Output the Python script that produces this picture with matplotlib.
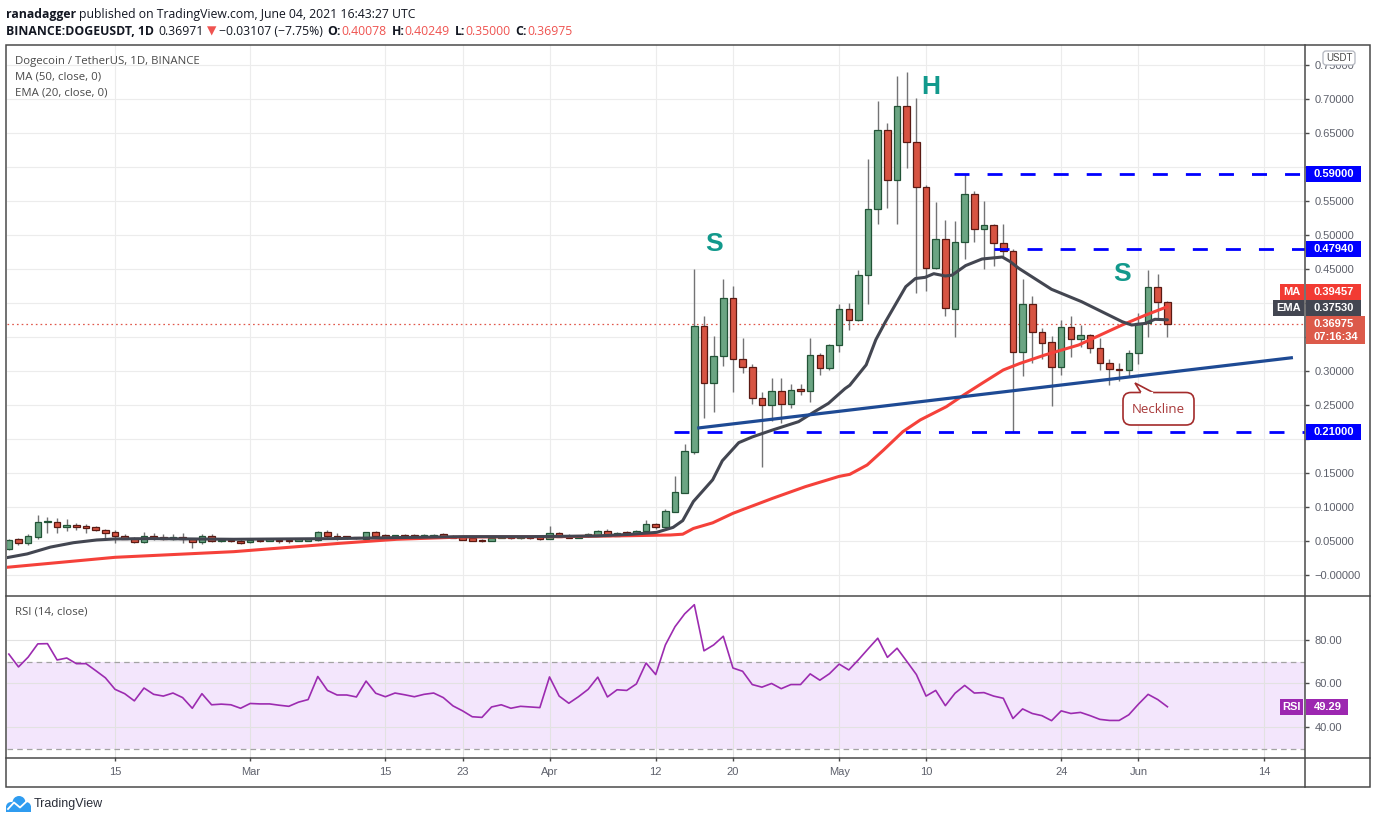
import matplotlib
matplotlib.use("Agg")
import matplotlib.pyplot as plt
from matplotlib.patches import Rectangle, FancyBboxPatch, Polygon, Circle
import numpy as np

W, H = 1376, 823
plt.rcParams['font.family'] = ['Liberation Sans', 'DejaVu Sans']
plt.rcParams['lines.scale_dashes'] = False

# one daily candle per day, counted from 15 Feb 2021 (4 Feb .. 4 Jun)
days = list(range(-11, 110))
opens = [0.0378, 0.0525, 0.0466, 0.0564, 0.0775, 0.0785, 0.0701, 0.0730, 0.0701, 0.0701, 0.0662,
         0.0625, 0.0569, 0.0539, 0.0491, 0.0578, 0.0554, 0.0534, 0.0554, 0.0534, 0.0480,
         0.0574, 0.0495, 0.0520, 0.0500, 0.0480, 0.0515, 0.0505, 0.0520, 0.0510, 0.0500,
         0.0505, 0.0520, 0.0627, 0.0580, 0.0554, 0.0549, 0.0534, 0.0632, 0.0588, 0.0560,
         0.0588, 0.0588, 0.0569, 0.0574, 0.0600, 0.0574, 0.0559, 0.0544, 0.0515, 0.0505,
         0.0549, 0.0554, 0.0540, 0.0554, 0.0549, 0.0534, 0.0617, 0.0580, 0.0550, 0.0569,
         0.0593, 0.0642, 0.0580, 0.0620, 0.0608, 0.0642, 0.0750, 0.0700, 0.0931, 0.1210,
         0.1813, 0.3657, 0.2819, 0.3225, 0.4080, 0.3176, 0.3054, 0.2598, 0.2495, 0.2700,
         0.2510, 0.2715, 0.2710, 0.3230, 0.3039, 0.3377, 0.3907, 0.3745, 0.4407, 0.5378,
         0.6540, 0.5804, 0.6892, 0.6363, 0.5700, 0.4510, 0.4940, 0.3907, 0.4890, 0.5600,
         0.5084, 0.5142, 0.4877, 0.4760, 0.3284, 0.3985, 0.3580, 0.3420, 0.3054, 0.3650,
         0.3466, 0.3525, 0.3333, 0.3113, 0.3025, 0.3010, 0.3260, 0.3700, 0.4230, 0.40078]
highs = [0.0525, 0.0549, 0.0603, 0.0882, 0.0848, 0.0833, 0.0819, 0.0760, 0.0745, 0.0721, 0.0672,
         0.0662, 0.0603, 0.0564, 0.0637, 0.0613, 0.0603, 0.0603, 0.0623, 0.0549, 0.0598,
         0.0598, 0.0539, 0.0534, 0.0525, 0.0534, 0.0534, 0.0530, 0.0530, 0.0525, 0.0535,
         0.0540, 0.0640, 0.0662, 0.0623, 0.0570, 0.0565, 0.0637, 0.0652, 0.0600, 0.0595,
         0.0600, 0.0600, 0.0600, 0.0605, 0.0615, 0.0590, 0.0570, 0.0555, 0.0525, 0.0560,
         0.0560, 0.0565, 0.0565, 0.0565, 0.0560, 0.0720, 0.0637, 0.0603, 0.0590, 0.0615,
         0.0662, 0.0672, 0.0625, 0.0647, 0.0655, 0.0810, 0.0770, 0.0970, 0.1456, 0.1930,
         0.4500, 0.3810, 0.3510, 0.4350, 0.4250, 0.3480, 0.3100, 0.2690, 0.2890, 0.2890,
         0.2810, 0.2810, 0.3490, 0.3260, 0.3400, 0.3985, 0.4000, 0.4485, 0.6118, 0.6970,
         0.6640, 0.7338, 0.7400, 0.7010, 0.5740, 0.5490, 0.5220, 0.5210, 0.5900, 0.5650,
         0.5500, 0.5160, 0.5160, 0.4800, 0.4350, 0.4110, 0.3630, 0.3510, 0.3750, 0.3810,
         0.3680, 0.3550, 0.3490, 0.3170, 0.3120, 0.3310, 0.3850, 0.4480, 0.4426, 0.40249]
lows = [0.0365, 0.0441, 0.0441, 0.0525, 0.0623, 0.0623, 0.0652, 0.0662, 0.0613, 0.0642, 0.0549,
        0.0475, 0.0525, 0.0475, 0.0475, 0.0515, 0.0515, 0.0515, 0.0466, 0.0402, 0.0456,
        0.0480, 0.0480, 0.0485, 0.0451, 0.0475, 0.0480, 0.0495, 0.0475, 0.0470, 0.0495,
        0.0500, 0.0505, 0.0539, 0.0515, 0.0535, 0.0530, 0.0530, 0.0560, 0.0550, 0.0550,
        0.0555, 0.0555, 0.0560, 0.0565, 0.0555, 0.0540, 0.0510, 0.0495, 0.0485, 0.0495,
        0.0540, 0.0530, 0.0530, 0.0535, 0.0510, 0.0530, 0.0555, 0.0540, 0.0545, 0.0560,
        0.0585, 0.0570, 0.0570, 0.0600, 0.0600, 0.0630, 0.0680, 0.0690, 0.0920, 0.1200,
        0.1780, 0.2304, 0.2390, 0.3080, 0.2696, 0.2970, 0.2520, 0.1593, 0.2270, 0.2240,
        0.2460, 0.2640, 0.2550, 0.2940, 0.3020, 0.3280, 0.3600, 0.3730, 0.3980, 0.5167,
        0.5390, 0.5167, 0.5990, 0.4150, 0.4180, 0.4500, 0.3810, 0.3500, 0.4640, 0.4900,
        0.4495, 0.4550, 0.4690, 0.2100, 0.2930, 0.3120, 0.3170, 0.2480, 0.2940, 0.3210,
        0.3360, 0.3270, 0.3010, 0.2800, 0.2860, 0.2930, 0.3110, 0.3500, 0.3750, 0.3500]
closes = [0.0515, 0.0466, 0.0574, 0.0775, 0.0790, 0.0701, 0.0730, 0.0701, 0.0697, 0.0657, 0.0623,
          0.0569, 0.0535, 0.0491, 0.0578, 0.0549, 0.0534, 0.0554, 0.0530, 0.0480, 0.0569,
          0.0495, 0.0520, 0.0500, 0.0475, 0.0515, 0.0500, 0.0520, 0.0495, 0.0500, 0.0525,
          0.0530, 0.0627, 0.0580, 0.0549, 0.0549, 0.0545, 0.0627, 0.0580, 0.0560, 0.0583,
          0.0564, 0.0560, 0.0588, 0.0593, 0.0564, 0.0550, 0.0520, 0.0505, 0.0500, 0.0550,
          0.0550, 0.0540, 0.0554, 0.0540, 0.0535, 0.0617, 0.0564, 0.0550, 0.0580, 0.0603,
          0.0647, 0.0580, 0.0617, 0.0613, 0.0647, 0.0745, 0.0700, 0.0937, 0.1216, 0.1820,
          0.3657, 0.2819, 0.3216, 0.4080, 0.3176, 0.3054, 0.2598, 0.2495, 0.2700, 0.2510,
          0.2715, 0.2710, 0.3230, 0.3039, 0.3377, 0.3907, 0.3745, 0.4407, 0.5378, 0.6540,
          0.5804, 0.6892, 0.6363, 0.5700, 0.4510, 0.4940, 0.3922, 0.4890, 0.5600, 0.5084,
          0.5142, 0.4877, 0.4760, 0.3284, 0.3985, 0.3578, 0.3417, 0.3064, 0.3652, 0.3466,
          0.3525, 0.3333, 0.3113, 0.3025, 0.3010, 0.3260, 0.3700, 0.4230, 0.4010, 0.36975]

# EMA 20 and MA 50
ema_days = [-11.2, -9.1, -6.7, -4.3, -1.9, 0, 3.6, 12.3, 22.6, 29.2, 36.1, 43, 49.9, 53.4, 56.1,
            57.8, 58.8, 59.9, 61.9, 62.9, 64.6, 66, 68.1, 70.8, 72.2, 73.9, 75.6, 76.1, 77.8, 78.8,
            79.8, 81.9, 82.9, 83.9, 84.8, 86, 86.7, 88.1, 89.8, 91.9, 92.7, 93.6, 97, 100.1,
            104.3, 105.3, 106.7, 107.7, 109]
ema_vals = [0.0255, 0.031, 0.041, 0.0475, 0.0515, 0.053, 0.0535, 0.0525, 0.0535, 0.055, 0.0564,
            0.0564, 0.0574, 0.0598, 0.0627, 0.070, 0.080, 0.108, 0.140, 0.168, 0.1946, 0.203,
            0.2132, 0.2255, 0.238, 0.2525, 0.274, 0.279, 0.309, 0.346, 0.3725, 0.424, 0.436,
            0.4377, 0.4431, 0.4397, 0.441, 0.455, 0.4647, 0.4676, 0.461, 0.451, 0.4201, 0.4020,
            0.3726, 0.3676, 0.370, 0.376, 0.3753]
ma_days = [-11.2, 0, 12.3, 23.3, 29.2, 36.1, 46.4, 53.4, 57.5, 58.8, 59.9, 61.9, 64, 68.1, 71.5,
           75, 76.1, 77.9, 79.6, 81.6, 83.4, 86.1, 87.9, 89.9, 92, 93.7, 96.3, 99.8, 104.3,
           106.7, 109]
ma_vals = [0.0113, 0.026, 0.0343, 0.0466, 0.0525, 0.0559, 0.0564, 0.0578, 0.0588, 0.060, 0.0684,
           0.0767, 0.0907, 0.1127, 0.1299, 0.1450, 0.148, 0.1618, 0.1838, 0.2108, 0.228, 0.2475,
           0.2647, 0.2828, 0.3015, 0.311, 0.3235, 0.3382, 0.3676, 0.382, 0.39457]

rsi_vals = [73.5, 67.6, 72.1, 78.2, 78.3, 70.8, 71.7, 69.1, 69.1, 65.9, 62.6,
            57.3, 55.3, 52.0, 57.9, 55.0, 54.2, 55.6, 53.5, 48.6, 55.3,
            50.2, 50.5, 50.2, 48.6, 50.8, 50.6, 50.6, 50.0, 49.5, 51.4,
            52.6, 63.2, 56.8, 54.7, 54.7, 53.8, 61.1, 55.5, 53.9, 55.6,
            54.8, 53.9, 55.0, 55.6, 53.5, 49.7, 47.4, 44.7, 44.4, 49.2,
            50.2, 48.6, 49.5, 49.2, 48.9, 63.0, 54.2, 50.9, 53.9, 57.3,
            62.9, 53.8, 57.1, 56.8, 59.8, 69.4, 64.1, 77.7, 86.1, 92.0,
            96.2, 75.0, 77.7, 81.7, 67.1, 65.6, 59.5, 58.3, 60.0, 57.6,
            59.5, 59.5, 64.4, 61.5, 64.5, 68.9, 66.2, 70.9, 75.9, 80.8,
            72.0, 76.2, 70.2, 64.1, 54.2, 56.8, 49.8, 55.5, 59.1, 55.6,
            55.8, 54.2, 53.2, 43.9, 48.3, 46.2, 45.2, 42.9, 47.4, 46.2,
            46.7, 45.2, 43.5, 43.0, 43.0, 45.6, 50.5, 55.0, 52.6, 49.29]

tick_days = [0, 14, 28, 36, 45, 56, 64, 75, 84, 98, 106, 119]
tick_labels = ['15', 'Mar', '15', '23', 'Apr', '12', '20', 'May', '10', '24', 'Jun', '14']
price_ticks = [0.0, 0.05, 0.10, 0.15, 0.20, 0.25, 0.30, 0.35, 0.40, 0.45, 0.50, 0.55, 0.60,
               0.65, 0.70, 0.75]
# labels covered by the price tags in the original are left blank
price_tick_labels = ['\u22120.00000', '0.05000', '0.10000', '0.15000', '', '0.25000',
                     '0.30000', '', '', '0.45000', '0.50000', '0.55000',
                     '', '0.65000', '0.70000', '0.75000']
rsi_ticks = [40, 60, 80]
rsi_tick_labels = ['40.00', '60.00', '80.00']

levels = [0.21, 0.4794, 0.59]
level_start = [57.9, 91.0, 86.9]
neck_days = [60.3, 122.0]
neck_prices = [0.216, 0.3197]
marks = [('S', 62.0, 0.487), ('H', 84.5, 0.717), ('S', 104.3, 0.442)]

UP, UP_EDGE = '#6ba583', '#225437'
DN, DN_EDGE = '#d75442', '#5b1a13'
FRAME = '#4a4a4a'
TXT = '#5d606b'

fig = plt.figure(figsize=(W / 100, H / 100), dpi=100)
fig.patch.set_facecolor('white')
ax = fig.add_axes([7 / W, 1 - 596 / H, 1298 / W, 551 / H])
rsi = fig.add_axes([7 / W, 1 - 757 / H, 1298 / W, 161 / H])
xlim = (-11.19, 123.25)

# ---- price pane ----
d = np.array(days)
o, hi, lo, c = map(np.array, (opens, highs, lows, closes))
up = c >= o
bot = np.minimum(o, c)
hgt = np.maximum(np.abs(c - o), 0.0018)
ax.vlines(d, lo, hi, color='#737375', lw=1, zorder=2)
ax.bar(d[up], hgt[up], bottom=bot[up], width=0.68, color=UP, edgecolor=UP_EDGE, lw=0.9, zorder=3)
ax.bar(d[~up], hgt[~up], bottom=bot[~up], width=0.68, color=DN, edgecolor=DN_EDGE, lw=0.9, zorder=3)

ax.plot(ma_days, ma_vals, color='#f5413a', lw=2.2, zorder=4, solid_capstyle='round')
ax.plot(ema_days, ema_vals, color='#434651', lw=2.2, zorder=4, solid_capstyle='round')
ax.plot(neck_days, neck_prices, color='#1e4a94', lw=2.3, zorder=4, solid_capstyle='butt')
for lv, st in zip(levels, level_start):
    ax.plot([st, xlim[1]], [lv, lv], color='#0000ff', lw=2, ls=(0, (10.8, 13)), zorder=4)
ax.axhline(closes[-1], color='#e0574a', lw=0.9, ls=(0, (1.2, 2.2)), zorder=1)
for letter, md, mp in marks:
    ax.text(md, mp, letter, color='#12998c', fontsize=19, fontweight='bold', ha='center', va='center', zorder=5)

ax.set_xlim(*xlim)
ax.set_ylim(-0.0309, 0.7794)
ax.set_xticks(tick_days)
ax.set_yticks(price_ticks)
ax.set_yticklabels(price_tick_labels)
ax.yaxis.tick_right()
ax.tick_params(axis='x', length=0, labelbottom=False)
ax.tick_params(axis='y', length=3, width=1, color=FRAME, labelcolor=TXT, labelsize=8, pad=4)
ax.grid(True, color='#ececec', lw=0.8)
ax.set_axisbelow(True)
for s in ax.spines.values():
    s.set_visible(False)

# ---- RSI pane ----
rsi.axhspan(30, 70, color='#f3e6fc', lw=0, zorder=1)
for lv in (30, 70):
    rsi.axhline(lv, color='#a3a3a3', lw=0.9, ls=(0, (4, 3)), zorder=1.6)
rsi.plot(days, rsi_vals, color='#9c2bb0', lw=1.2, zorder=3)
rsi.set_xlim(*xlim)
rsi.set_ylim(26.2, 100.2)
rsi.set_xticks(tick_days)
rsi.set_xticklabels(tick_labels)
rsi.set_yticks(rsi_ticks)
rsi.set_yticklabels(rsi_tick_labels)
rsi.yaxis.tick_right()
rsi.tick_params(axis='x', length=3, width=1, color=FRAME, labelcolor=TXT, labelsize=8, pad=4)
rsi.tick_params(axis='y', length=3, width=1, color=FRAME, labelcolor=TXT, labelsize=8, pad=4)
rsi.grid(True, color='#e2e2e2', lw=0.8)
rsi.set_axisbelow('line')
for s in rsi.spines.values():
    s.set_visible(False)

# ---- overlay in pixel coordinates ----
ov = fig.add_axes([0, 0, 1, 1], zorder=5)
ov.set_xlim(0, W)
ov.set_ylim(H, 0)
ov.axis('off')
ov.patch.set_alpha(0)


def px_y(axis, v):
    return H - axis.transData.transform((0, v))[1]


# frame
ov.add_patch(Rectangle((6, 45), 1364, 742, fill=False, ec=FRAME, lw=1.1))
ov.plot([1305, 1305], [45, 787], color=FRAME, lw=1.1)
ov.plot([6, 1370], [596, 596], color=FRAME, lw=1.1)
ov.plot([6, 1370], [757.5, 757.5], color=FRAME, lw=1.1)


def tag(x0, x1, yc, h, fc, txt, ha='left', tc='white'):
    ov.add_patch(Rectangle((x0, yc - h / 2), x1 - x0, h, fc=fc, ec='none', zorder=6))
    tx = 1314 if ha == 'left' else (x0 + x1) / 2
    ov.text(tx, yc, txt, color=tc, fontsize=8, fontweight='bold', ha=ha, va='center', zorder=7)


for lv in levels:
    tag(1306, 1361, px_y(ax, lv), 16, '#0000ff', f'{lv:.5f}')

py = px_y(ax, closes[-1])
ov.add_patch(Rectangle((1306, py - 8), 59, 28.5, fc='#dc5a4a', ec='none', zorder=6))
ov.text(1314, py, f'{closes[-1]:.5f}', color='white', fontsize=8, fontweight='bold', va='center', zorder=7)
ov.text(1314, py + 13.5, '07:16:34', color='white', fontsize=8, fontweight='bold', va='center', zorder=7)
ey = min(px_y(ax, ema_vals[-1]), py - 16)
tag(1306, 1361, ey, 16, '#434651', f'{ema_vals[-1]:.5f}')
tag(1273, 1304, ey, 16, '#434651', 'EMA', ha='center')
my = min(px_y(ax, ma_vals[-1]), ey - 16)
tag(1306, 1361, my, 16, '#f23b33', f'{ma_vals[-1]:.5f}')
tag(1280, 1304, my, 16, '#f23b33', 'MA', ha='center')
ry = px_y(rsi, rsi_vals[-1])
tag(1306, 1348, ry, 16, '#9c27b0', f'{rsi_vals[-1]:.2f}')
tag(1280, 1303, ry, 16, '#9c27b0', 'RSI', ha='center')

ov.add_patch(FancyBboxPatch((1323, 51), 32, 14, boxstyle='round,pad=0,rounding_size=3',
                            fc='white', ec='#b2b5be', lw=0.9, zorder=8))
ov.text(1339, 58, 'USDT', color='#4a4a4a', fontsize=7, ha='center', va='center', zorder=9)

# neckline callout
ov.add_patch(FancyBboxPatch((1123, 392.5), 71, 32.5, boxstyle='round,pad=0,rounding_size=8',
                            fc='white', ec='#a32b2b', lw=1.2, zorder=6))
ov.add_patch(Polygon([(1141, 392.5), (1135, 383), (1153, 392.5)], closed=False,
                     fc='white', ec='#a32b2b', lw=1.2, zorder=7))
ov.plot([1142, 1152], [392.5, 392.5], color='white', lw=1.6, zorder=7.5)
ov.text(1158.5, 409, 'Neckline', color='#a8393a', fontsize=9.5, ha='center', va='center',
        family=['Open Sans', 'DejaVu Sans'], zorder=8)

# pane legends
lab_font = ['Open Sans', 'DejaVu Sans']
ov.text(15, 61, 'Dogecoin / TetherUS, 1D, BINANCE', color='#4a4a4a', fontsize=8.2, va='center', family=lab_font)
ov.text(15, 77, 'MA (50, close, 0)', color='#4a4a4a', fontsize=8.2, va='center', family=lab_font)
ov.text(15, 93, 'EMA (20, close, 0)', color='#4a4a4a', fontsize=8.2, va='center', family=lab_font)
ov.text(15, 612.5, 'RSI (14, close)', color='#4a4a4a', fontsize=8.2, va='center', family=lab_font)

# header, pieces chained one after another
RED = '#ef5350'
INK = '#131722'


def header(x, y, parts):
    prev = None
    for txt, col, wt, gap in parts:
        kw = dict(color=col, fontweight=wt, fontsize=8.8, family=lab_font, ha='left', va='bottom')
        if prev is None:
            prev = ov.text(x, y, txt, **kw)
        else:
            prev = ov.annotate(txt, xy=(1, 0), xycoords=prev, xytext=(gap, 0),
                               textcoords='offset points', **kw)


header(6, 21, [('ranadagger', INK, 'bold', 0),
               ('published on TradingView.com, June 04, 2021 16:43:27 UTC', INK, 'normal', 2.3)])
header(6, 38, [('BINANCE:DOGEUSDT, 1D', INK, 'bold', 0),
               ('0.36971', INK, 'normal', 3.4),
               ('\u25bc', RED, 'normal', 2.0),
               ('\u22120.03107 (\u22127.75%)', INK, 'normal', 2.0),
               ('O:', INK, 'bold', 3.4), (f'{opens[-1]:.5f}', RED, 'normal', 0.3),
               ('H:', INK, 'bold', 3.4), (f'{highs[-1]:.5f}', RED, 'normal', 0.3),
               ('L:', INK, 'bold', 3.4), (f'{lows[-1]:.5f}', RED, 'normal', 0.3),
               ('C:', INK, 'bold', 3.4), (f'{closes[-1]:.5f}', RED, 'normal', 0.3)])

# TradingView logo
logo = '#2f9cf0'
for cx, cy, r in [(11, 807, 5), (19, 802.5, 6.5), (26, 807, 5)]:
    ov.add_patch(Circle((cx, cy), r, fc=logo, ec='none', zorder=6))
ov.add_patch(Rectangle((6, 806), 25, 6, fc=logo, ec='none', zorder=6))
ov.plot([8, 14, 20, 27], [809, 802.5, 807.5, 801], color='white', lw=1.3, zorder=7)
ov.text(34, 804, 'TradingView', color='#2a2e39', fontsize=9, va='center', zorder=7)

fig.savefig('out.png', dpi=100)
